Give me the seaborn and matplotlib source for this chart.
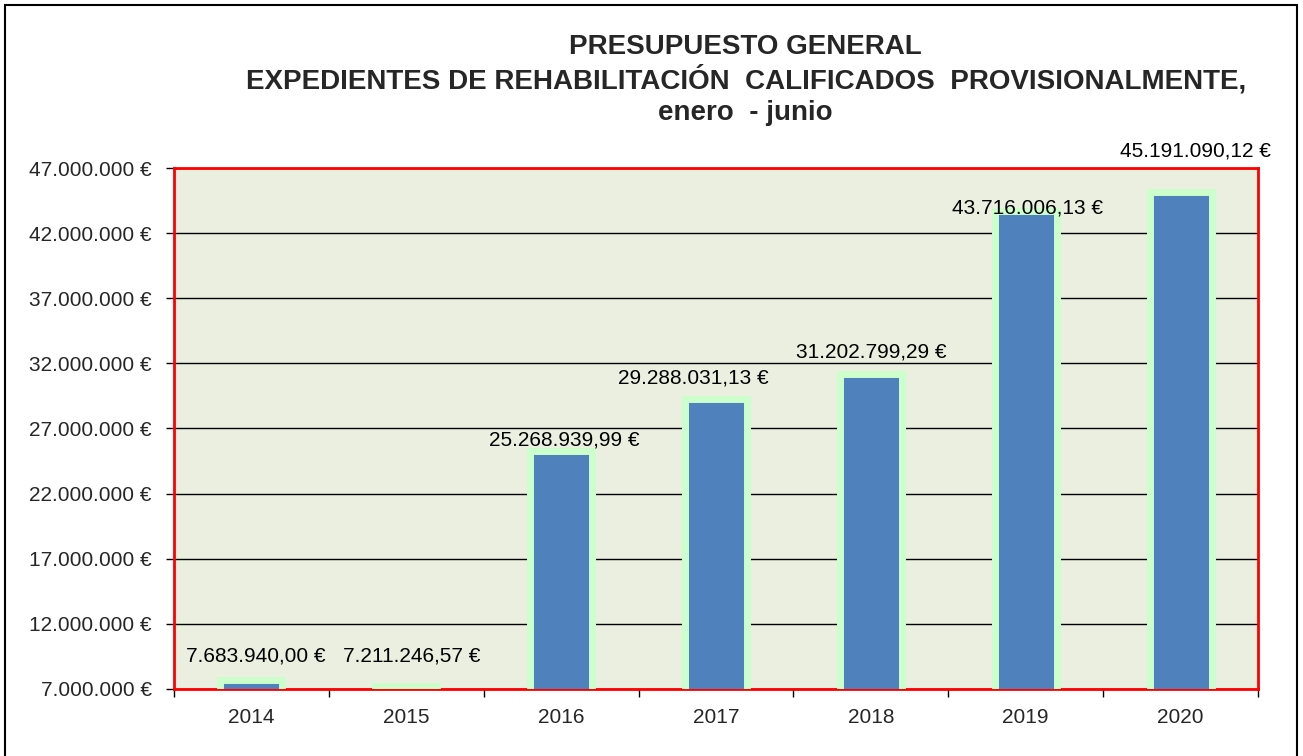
import numpy as np
import pandas as pd
import matplotlib
matplotlib.use('Agg')
import matplotlib.pyplot as plt
import seaborn as sns
from matplotlib.patches import Rectangle

## ===================================================================== ##

years = ['2014', '2015', '2016', '2017', '2018', '2019', '2020']
values = [7683940.00, 7211246.57, 25268939.99, 29288031.13, 31202799.29, 43716006.13, 45191090.12]
yticks = np.arange(7e6, 47e6 + 1, 5e6)

# label offsets in points (manual placement as in the original)
label_dx = [3, 4, 2, -16, 0, 1, 11]
label_dy = [17, 22, 8, 15, 16, 2, 29]

## ===================================================================== ##

def eur(v, decimals=2):
	s = '{0:,.{1}f}'.format(v, decimals)
	s = s.replace(',', 'X').replace('.', ',').replace('X', '.')
	return s + ' €'

df = pd.DataFrame({'year': years, 'value': values})

sns.set_style('white')
plt.rcParams['font.family'] = ['Liberation Sans', 'DejaVu Sans']

fig = plt.figure(figsize=(13.03, 7.56), dpi=100)
ax = fig.add_axes([174/1303, 1 - 689/756, (1258 - 174)/1303, (689 - 168)/756])
ax.set_facecolor('#EBEFDF')

sns.barplot(data=df, x='year', y='value', color='#4F81BD', saturation=1,
			width=0.40, edgecolor='#CCFFCC', linewidth=5, ax=ax, zorder=3)

ax.set_ylim(7e6, 47e6)
ax.set_xlim(-0.5, len(years) - 0.5)
ax.set_yticks(yticks)
ax.set_yticklabels([eur(v, 0).replace(',', '') for v in yticks], fontsize=15)
ax.yaxis.grid(True, color='black', lw=1)
ax.set_axisbelow(True)
ax.tick_params(axis='y', length=6, width=1, color='black', direction='out', left=True, pad=10)
ax.tick_params(axis='x', which='major', length=0, labelsize=15, pad=14)
ax.set_xticks(np.arange(-0.5, len(years), 1), minor=True)
ax.tick_params(axis='x', which='minor', length=6, width=1, color='black', bottom=True)
ax.set_xlabel('')
ax.set_ylabel('')

for s in ax.spines.values():
	s.set_visible(True)
	s.set_color('red')
	s.set_linewidth(2)

for i, v in enumerate(values):
	ax.annotate(eur(v), (i, v), xytext=(label_dx[i], label_dy[i]), textcoords='offset points',
				ha='center', va='center', fontsize=15, color='black', annotation_clip=False, zorder=5)

fig.text(0.572, 0.938, 'PRESUPUESTO GENERAL', ha='center', va='center', fontsize=20,
		 fontweight='bold', family=['Liberation Sans Narrow', 'Liberation Sans'])
fig.text(0.573, 0.894, 'EXPEDIENTES DE REHABILITACIÓN  CALIFICADOS  PROVISIONALMENTE,', ha='center',
		 va='center', fontsize=20, fontweight='bold', family=['Liberation Sans Narrow', 'Liberation Sans'])
fig.text(0.572, 0.850, 'enero  - junio', ha='center', va='center', fontsize=20,
		 fontweight='bold', family=['Liberation Sans Narrow', 'Liberation Sans'])

fig.add_artist(Rectangle((5/1303, -0.05), (1297 - 5)/1303, 1.05 - 5/756, transform=fig.transFigure,
						 fill=False, edgecolor='black', lw=1.5))

fig.savefig('out.png', dpi=100)
